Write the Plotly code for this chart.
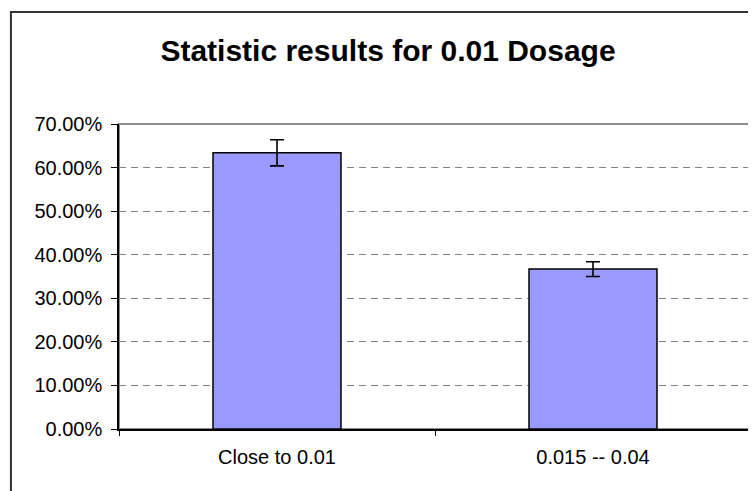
import plotly.graph_objects as go

categories = ["Close to 0.01", "0.015 -- 0.04"]
values = [0.634, 0.367]
errors = [0.030, 0.017]
y_ticks = [0.0, 0.1, 0.2, 0.3, 0.4, 0.5, 0.6, 0.7]

FONT = "Liberation Sans, Arial, sans-serif"

# the page body has an 8px margin, so the figure is sized to fill the rest
W, H = 748, 483

fig = go.Figure()
fig.add_trace(go.Bar(
    x=categories,
    y=values,
    marker=dict(color="#9999FF", line=dict(color="black", width=1.5)),
    error_y=dict(type="data", array=errors, color="black", thickness=1.6, width=7),
    width=0.405,
))

# plot area border (grey), then the outer chart border
fig.add_shape(type="rect", xref="paper", yref="paper", x0=0, x1=1, y0=0, y1=1,
              line=dict(color="#8c8c8c", width=2), layer="below")
fig.add_shape(type="rect", xref="paper", yref="paper",
              x0=-0.171, x1=1.1, y0=-0.4, y1=1.367,
              line=dict(color="#333333", width=2))

fig.update_layout(
    width=W,
    height=H,
    margin=dict(l=111, r=5, t=116, b=62),
    paper_bgcolor="white",
    plot_bgcolor="white",
    font=dict(family=FONT, size=20, color="black"),
    title=dict(text="<b>Statistic results for 0.01 Dosage</b>", x=380 / W, xref="container",
               xanchor="center", y=1 - 42 / H, yanchor="middle",
               font=dict(family=FONT, size=30, color="black")),
    showlegend=False,
    bargap=0.595,
)
fig.update_yaxes(
    range=[0, 0.7],
    tickvals=y_ticks,
    tickformat=".2%",
    showgrid=True,
    gridcolor="#808080",
    griddash="7px,5px",
    gridwidth=1,
    showline=True,
    linecolor="black",
    linewidth=1.5,
    ticks="outside",
    ticklen=6,
    tickcolor="black",
    ticklabelstandoff=5,
    zeroline=False,
    automargin=False,
)
fig.update_xaxes(
    showline=True,
    linecolor="black",
    linewidth=1.5,
    ticks="outside",
    tickson="boundaries",
    ticklen=5,
    tickcolor="black",
    ticklabelstandoff=9,
    showgrid=False,
    automargin=False,
)

fig.write_html("out.html")
